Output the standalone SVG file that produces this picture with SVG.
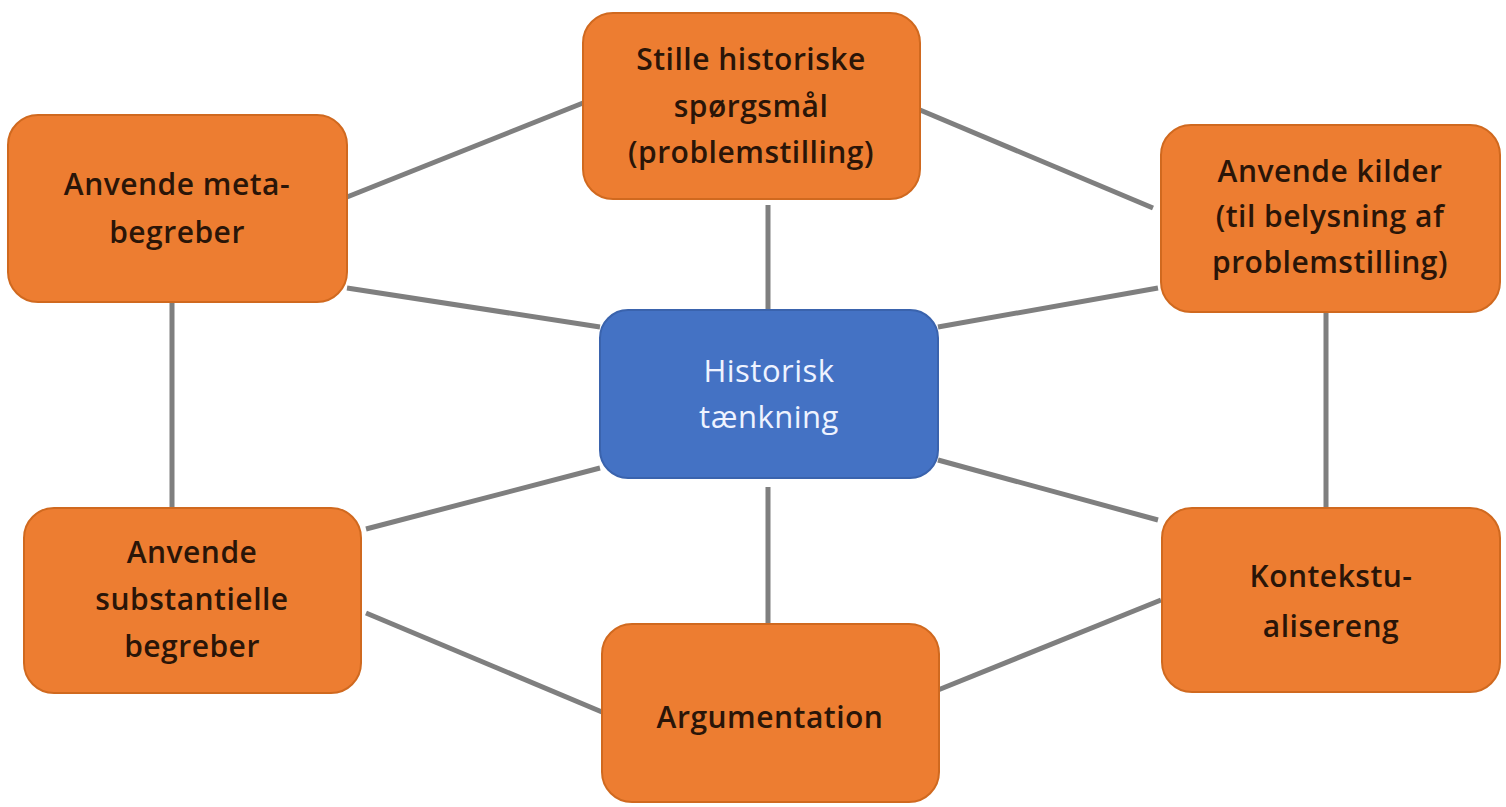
<svg xmlns="http://www.w3.org/2000/svg" width="1506" height="807" viewBox="0 0 1506 807">
<style>
.box{fill:#ED7D31;stroke:#D0691F;stroke-width:2}
.center{fill:#4472C4;stroke:#3A63AD;stroke-width:2}
.lbl{font-family:"Open Sans","Liberation Sans",sans-serif;font-size:30px;font-weight:600;letter-spacing:0.5px;fill:#2A1508;text-anchor:middle}
.lblw{font-family:"Open Sans","Liberation Sans",sans-serif;font-size:31px;font-weight:400;letter-spacing:0.5px;fill:#EEF3FF;text-anchor:middle}
.conn line{stroke:#7F7F7F;stroke-width:5;stroke-linecap:butt}
</style>
<rect width="1506" height="807" fill="#FFFFFF"/>
<g class="conn" id="connectors">
<line x1="347" y1="197" x2="583" y2="103"/>
<line x1="920" y1="110" x2="1153" y2="208"/>
<line x1="768" y1="205" x2="768" y2="310"/>
<line x1="347" y1="288" x2="600" y2="327"/>
<line x1="938" y1="327" x2="1158" y2="288"/>
<line x1="172" y1="302" x2="172" y2="508"/>
<line x1="1326" y1="312" x2="1326" y2="508"/>
<line x1="600" y1="468" x2="366" y2="529"/>
<line x1="938" y1="460" x2="1158" y2="520"/>
<line x1="768" y1="487" x2="768" y2="624"/>
<line x1="366" y1="613" x2="602" y2="712"/>
<line x1="1161" y1="600" x2="938" y2="690"/>
</g>
<g id="node-stille">
<rect class="box" x="583" y="13" width="337" height="186" rx="30"/>
<text class="lbl" x="751" y="70">Stille historiske</text>
<text class="lbl" x="751" y="117">spørgsmål</text>
<text class="lbl" x="751" y="163">(problemstilling)</text>
</g>
<g id="node-meta">
<rect class="box" x="8" y="115" width="339" height="187" rx="30"/>
<text class="lbl" x="177" y="195">Anvende meta-</text>
<text class="lbl" x="177" y="243">begreber</text>
</g>
<g id="node-kilder">
<rect class="box" x="1161" y="125" width="339" height="187" rx="30"/>
<text class="lbl" x="1330" y="182">Anvende kilder</text>
<text class="lbl" x="1330" y="227">(til belysning af</text>
<text class="lbl" x="1330" y="273">problemstilling)</text>
</g>
<g id="node-center">
<rect class="center" x="600" y="310" width="338" height="168" rx="28"/>
<text class="lblw" x="769" y="382">Historisk</text>
<text class="lblw" x="769" y="428">tænkning</text>
</g>
<g id="node-substantielle">
<rect class="box" x="24" y="508" width="337" height="185" rx="30"/>
<text class="lbl" x="192" y="563">Anvende</text>
<text class="lbl" x="192" y="610">substantielle</text>
<text class="lbl" x="192" y="657">begreber</text>
</g>
<g id="node-kontekst">
<rect class="box" x="1162" y="508" width="338" height="184" rx="30"/>
<text class="lbl" x="1331" y="587">Kontekstu-</text>
<text class="lbl" x="1331" y="637">alisereng</text>
</g>
<g id="node-argumentation">
<rect class="box" x="602" y="624" width="337" height="178" rx="30"/>
<text class="lbl" x="770" y="728">Argumentation</text>
</g>
</svg>
